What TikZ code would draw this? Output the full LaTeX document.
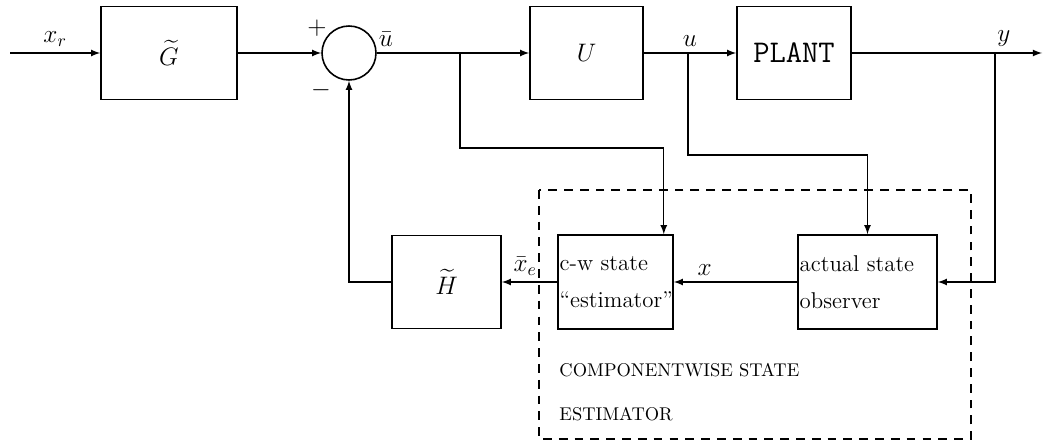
\documentclass[tikz,border=0pt]{standalone}
\usepackage{amssymb}
\usepackage{tikz}
\usetikzlibrary{arrows}

\tikzset{
  blk/.style={draw, line width=0.9pt, minimum height=1.86cm, font=\Large},
  txt/.style={anchor=west, inner sep=1pt, align=left},
  lbl/.style={font=\Large}
}

\begin{document}
\begin{tikzpicture}[x=0.02cm, y=-0.02cm, >=latex, line width=0.8pt]
    \useasboundingbox (0,0) rectangle (1047,442);
    % forward path
    \node[blk, minimum width=2.72cm] (G) at (169,53) {$\widetilde{G}$};
    \node[draw, circle, line width=0.9pt, minimum size=1.08cm, inner sep=0pt] (sum) at (349,53) {};
    \node[blk, minimum width=2.26cm] (U) at (586.5,53) {$U$};
    \node[blk, minimum width=2.28cm, font=\fontsize{18}{20}\selectfont\ttfamily] (P) at (794,53) {PLANT};
    \coordinate (in) at (10,53);
    \coordinate (out) at (1042,53);
    \coordinate (ub) at (460,53);
    \coordinate (uu) at (688,53);
    \coordinate (yb) at (995,53);
    \node[lbl] (plus) at (317,28) {$+$};
    \node[lbl] (minus) at (321,90) {$-$};

    % estimator and feedback
    \node[blk, minimum width=2.18cm] (H) at (446.5,282) {$\widetilde{H}$};
    \node[blk, minimum width=2.3cm, minimum height=1.88cm] (cw) at (615.5,282) {};
    \node[blk, minimum width=2.78cm, minimum height=1.88cm] (obs) at (867.5,282) {};
    \node[txt, font=\fontsize{13}{15}\selectfont] (cwt) at (cw.west) {c-w state\\[6pt]``estimator''};
    \node[txt, font=\fontsize{13}{15}\selectfont] (obst) at (obs.west) {actual state\\[6pt]observer};
    \draw[dashed, dash pattern=on 5pt off 4pt] (539,190) rectangle (971,439);
    \node[txt, font=\fontsize{10.5}{12}\selectfont] (lab1) at (557,370) {COMPONENTWISE STATE};
    \node[txt, font=\fontsize{10.5}{12}\selectfont] (lab2) at (557,414) {ESTIMATOR};

    \draw[->] (in) -- (G) node[lbl, midway, above] {$x_r$};
    \draw[->] (G) -- (sum);
    \draw[->] (sum) -- (U) node[lbl, pos=0.06, above] {$\bar{u}$};
    \draw[->] (U) -- (P) node[lbl, pos=0.5, above] {$u$};
    \draw[->] (P) -- (out) node[lbl, pos=0.8, above] {$y$};
    \draw[->] (ub) -- (460,148) -| ([xshift=-0.2cm]cw.north east);
    \draw[->] (uu) -- (688,155) -| (obs.north);
    \draw[->] (yb) |- (obs.east);
    \draw[->] (obs) -- (cw) node[lbl, pos=0.75, above] {$x$};
    \draw[->] (cw) -- (H) node[lbl, pos=0.58, above] {$\bar{x}_e$};
    \draw[->] (H) -| (sum);
  \end{tikzpicture}
\end{document}
